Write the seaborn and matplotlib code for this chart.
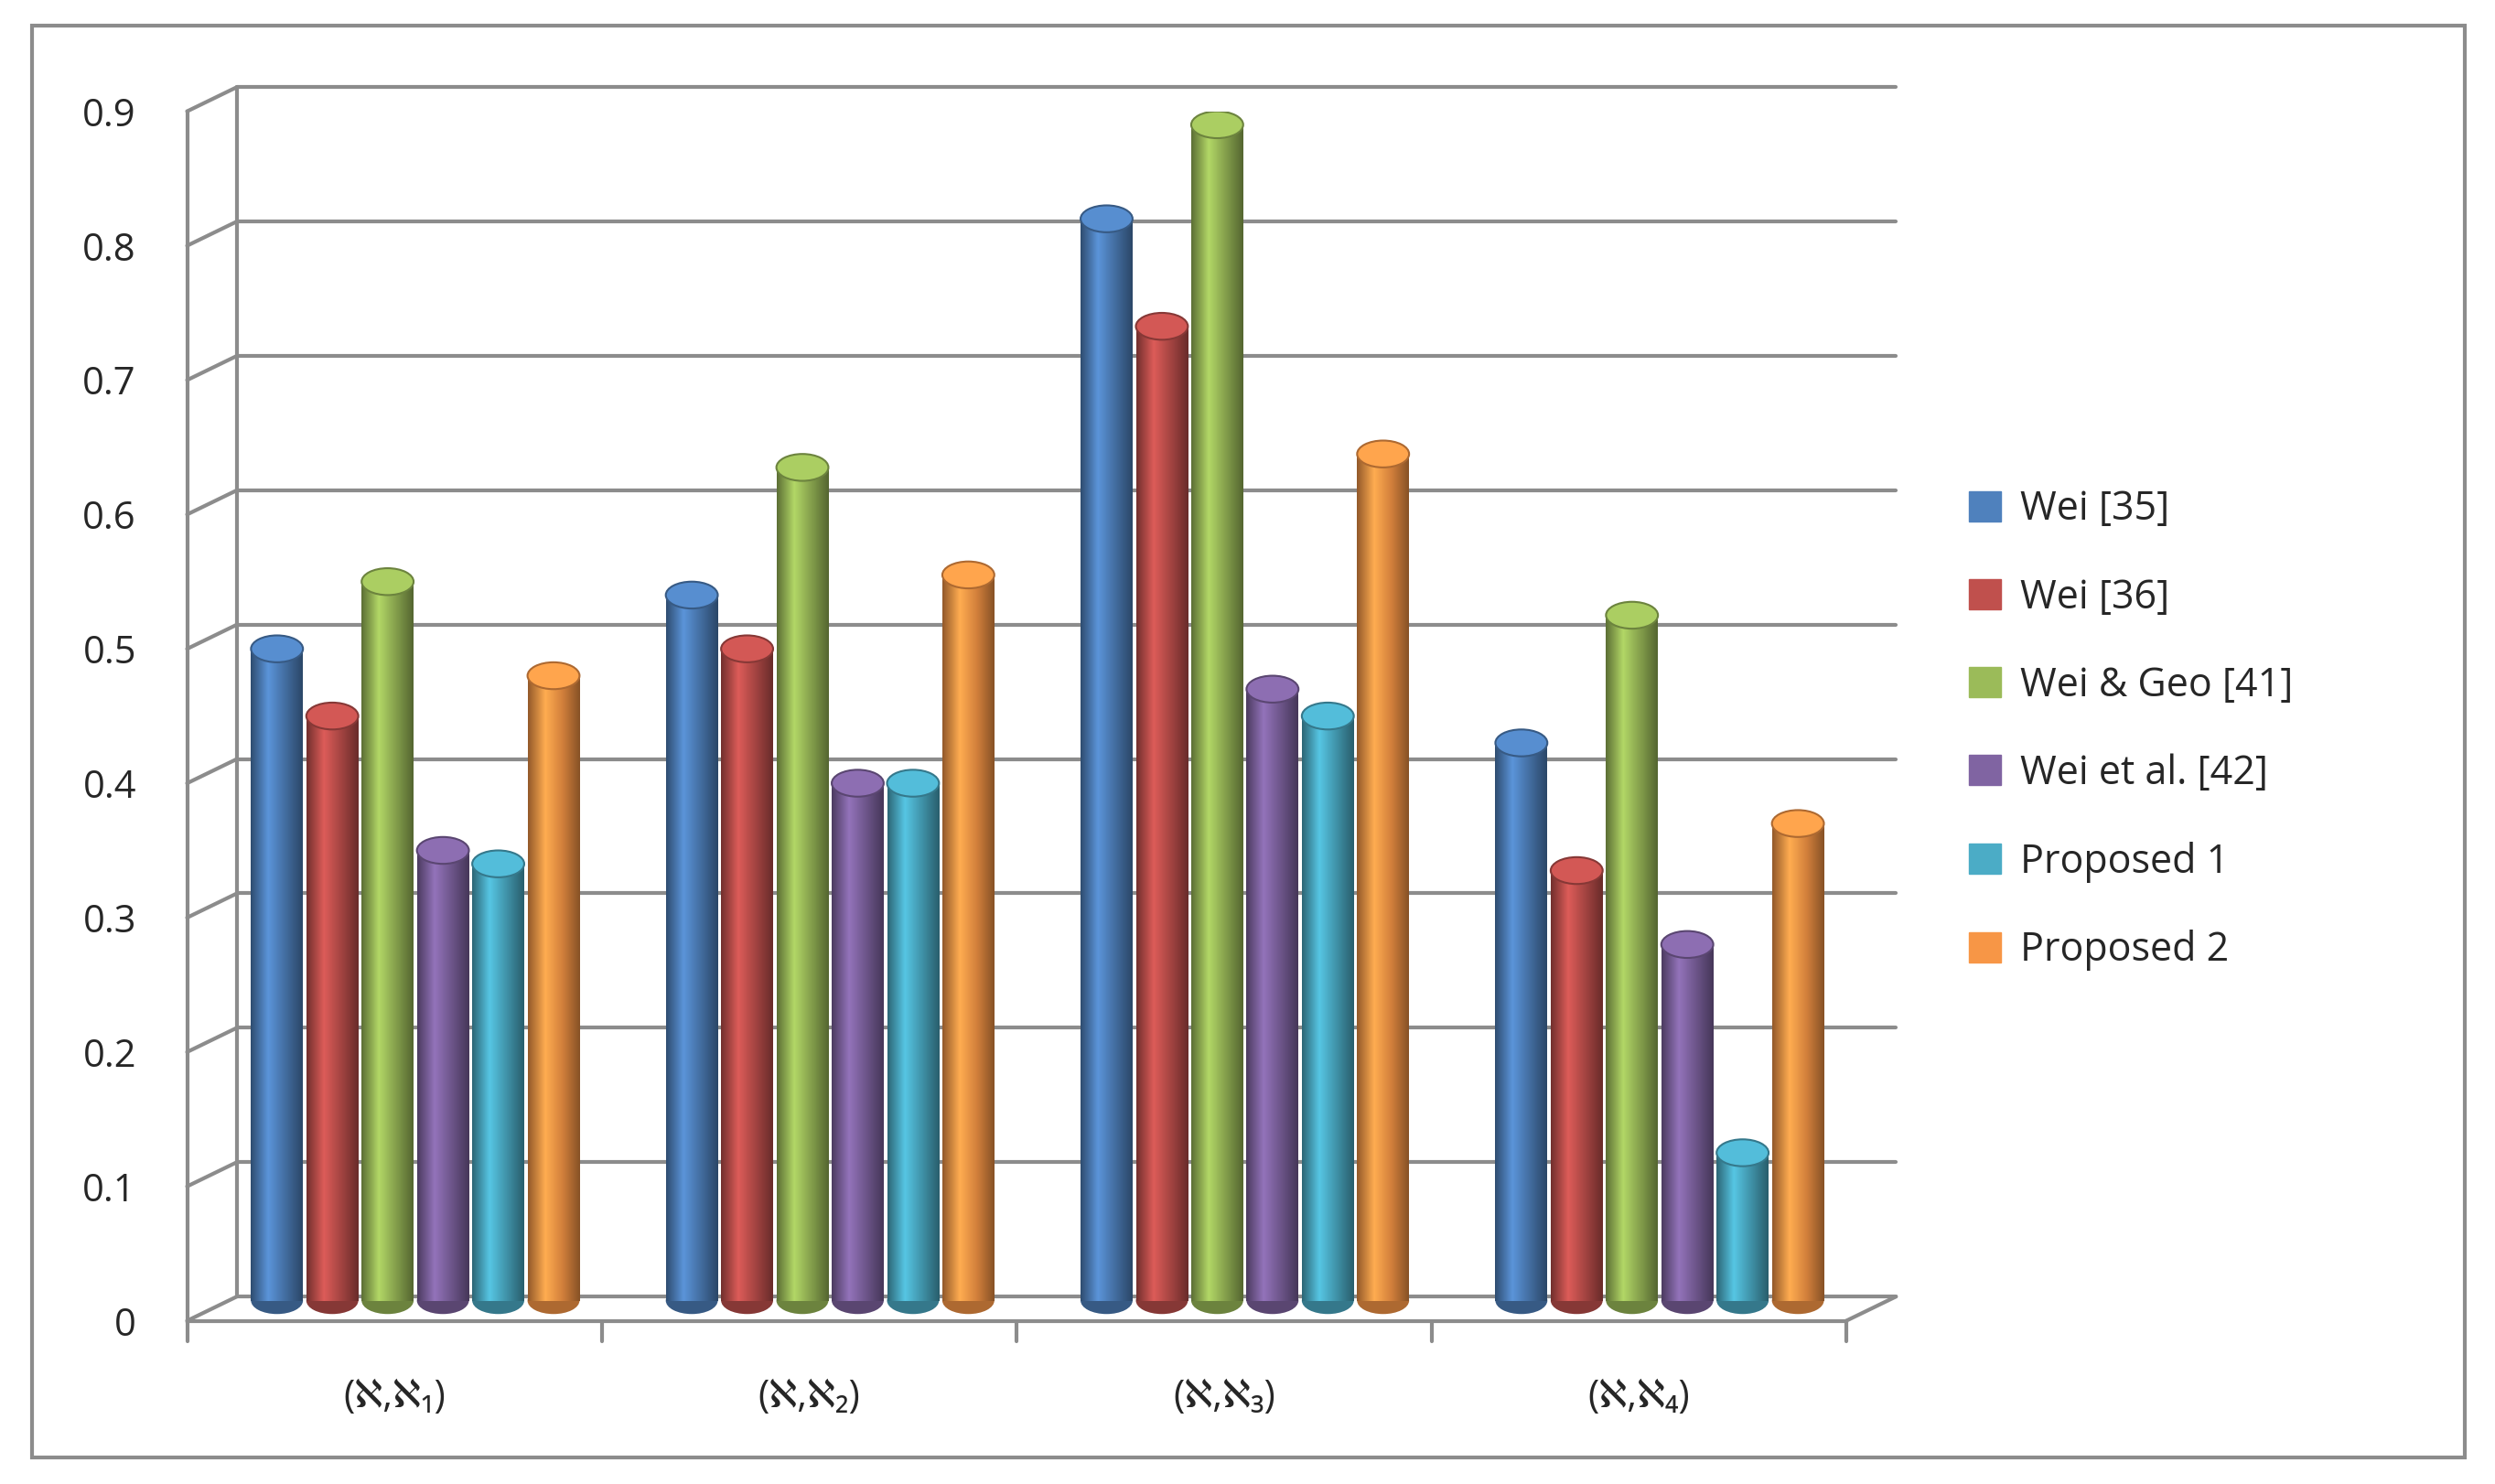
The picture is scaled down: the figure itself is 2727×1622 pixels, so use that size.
import matplotlib
matplotlib.use("Agg")
import matplotlib.pyplot as plt
import matplotlib.patches as mpatches
from matplotlib.colors import LinearSegmentedColormap, to_rgb
import numpy as np
import pandas as pd
import seaborn as sns

sns.set_theme(style="white")
plt.rcParams['font.family'] = ['Open Sans', 'DejaVu Sans']

groups = ['(ℵ,ℵ₁)', '(ℵ,ℵ₂)', '(ℵ,ℵ₃)', '(ℵ,ℵ₄)']
methods = ['Wei [35]', 'Wei [36]', 'Wei & Geo [41]', 'Wei et al. [42]', 'Proposed 1', 'Proposed 2']
wei35 = [0.50, 0.54, 0.82, 0.43]
wei36 = [0.45, 0.50, 0.74, 0.335]
weigeo41 = [0.55, 0.635, 0.89, 0.525]
weietal42 = [0.35, 0.40, 0.47, 0.28]
proposed1 = [0.34, 0.40, 0.45, 0.125]
proposed2 = [0.48, 0.555, 0.645, 0.37]
colors = ['#4F81BD', '#C0504D', '#9BBB59', '#8064A2', '#4BACC6', '#F79646']

series = [wei35, wei36, weigeo41, weietal42, proposed1, proposed2]
df = pd.DataFrame([(g, m, v) for m, vals in zip(methods, series) for g, v in zip(groups, vals)],
                  columns=['group', 'method', 'value'])

fig = plt.figure(figsize=(27.27, 16.22), dpi=100)
fig.patches.append(mpatches.Rectangle((0.013, 0.018), 0.975, 0.965, transform=fig.transFigure,
                                      fill=False, edgecolor='#8c8c8c', linewidth=3))
ax = fig.add_axes([0.075, 0.11, 0.665, 0.815])
sns.barplot(data=df, x='group', y='value', hue='method', palette=colors, ax=ax,
            width=0.8, gap=0.0, legend=False, saturation=1)

ax.set_ylim(0, 0.9)
ax.set_xlim(-0.5, 3.5)
ticks = np.arange(0, 0.91, 0.1)
off = 0.018
dx = 0.12
for t in ticks:
    ax.plot([-0.5 + dx, 3.5 + dx], [t + off, t + off], color='#8c8c8c', lw=3, zorder=0, clip_on=False)
    ax.plot([-0.5, -0.5 + dx], [t, t + off], color='#8c8c8c', lw=3, zorder=0, clip_on=False)
ax.plot([-0.5 + dx, -0.5 + dx], [off, 0.9 + off], color='#8c8c8c', lw=3, zorder=0, clip_on=False)
ax.plot([3.5, 3.5 + dx], [0, off], color='#8c8c8c', lw=3, zorder=0, clip_on=False)
ax.set_yticks(ticks)
ax.set_yticklabels(['0'] + [f'{t:.1f}' for t in ticks[1:]], fontsize=30)
ax.tick_params(axis='y', length=0, pad=40)
ax.set_xticks(range(4))
ax.set_xticklabels(groups, fontsize=30)
ax.tick_params(axis='x', length=0, pad=45)
for sp in ['top', 'right']:
    ax.spines[sp].set_visible(False)
for sp in ['left', 'bottom']:
    ax.spines[sp].set_color('#8c8c8c')
    ax.spines[sp].set_linewidth(3)
for xb in [-0.5, 0.5, 1.5, 2.5, 3.5]:
    ax.plot([xb, xb], [0, -0.015], color='#8c8c8c', lw=3, clip_on=False)
ax.set_xlabel('')
ax.set_ylabel('')

# cylinder shading
for i, patch in enumerate(ax.patches):
    c = np.array(to_rgb(colors[i // 4]))
    cmap = LinearSegmentedColormap.from_list('c', [c * 0.6, np.minimum(c * 1.15, 1), c * 0.85, c * 0.55])
    x0, w, h = patch.get_x(), patch.get_width(), patch.get_height()
    x0 += w * 0.03 + 0.05
    w *= 0.94
    y0 = 0.015
    patch.set_visible(False)
    im = ax.imshow(np.linspace(0, 1, 64).reshape(1, -1), cmap=cmap, aspect='auto',
                   extent=[x0, x0 + w, y0, h], zorder=3)
    rect = mpatches.Rectangle((x0, y0), w, h - y0, transform=ax.transData)
    im.set_clip_path(rect)
    ax.add_patch(mpatches.Ellipse((x0 + w / 2, h), w, 0.02, facecolor=np.minimum(c * 1.1, 1),
                                  edgecolor=c * 0.7, lw=1.5, zorder=4))
    ax.add_patch(mpatches.Ellipse((x0 + w / 2, y0), w, 0.02, facecolor=c * 0.7, lw=0, zorder=2.9))

handles = [mpatches.Patch(color=c, label=m) for c, m in zip(colors, methods)]
fig.legend(handles=handles, loc='center left', bbox_to_anchor=(0.775, 0.508), frameon=False,
           fontsize=31, handlelength=0.8, handleheight=0.8, labelspacing=1.2, handletextpad=0.5)

fig.savefig('out.png', dpi=100)
